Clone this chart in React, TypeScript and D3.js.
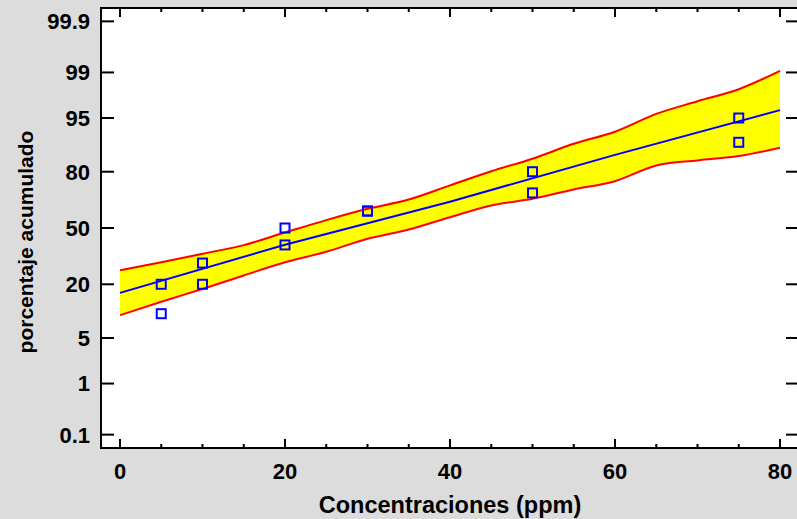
import React from 'react';
import * as d3 from 'd3';

const WIDTH = 797;
const HEIGHT = 519;
const FRAME = { left: 101, right: 799, top: 8, bottom: 448 };

// observed points (concentration, cumulative %)
const concentrations = [5, 5, 10, 10, 20, 20, 30, 30, 50, 50, 75, 75];
const observedPct = [10, 20, 20, 30, 40, 50, 60, 60, 70, 80, 90, 95];

// confidence band, read every 5 ppm
const bandX = [0, 5, 10, 15, 20, 25, 30, 35, 40, 45, 50, 55, 60, 65, 70, 75, 80];
const upperPct = [26.4, 30.4, 35, 39.9, 47.3, 54.7, 61.3, 66.5, 73.8, 80.2, 85, 89.6, 92.5, 95.6, 97.1, 98.1, 99.06];
const lowerPct = [9.6, 13.5, 18.1, 23.9, 30.4, 36.1, 43.6, 49.1, 56.4, 63.2, 66.9, 71.8, 75.8, 82.5, 84.4, 85.9, 88.5];

// fitted line
const fitX = [0, 20, 40, 60, 80];
const fitPct = [16.6, 40.1, 65.3, 86.3, 96.1];

const xMajor = [0, 20, 40, 60, 80];
const yTicks = [0.1, 1, 5, 20, 50, 80, 95, 99, 99.9];

// inverse normal cdf (Acklam)
function probit(p: number): number {
  const a = [-39.69683028665376, 220.9460984245205, -275.9285104469687, 138.357751867269, -30.66479806614716, 2.506628277459239];
  const b = [-54.47609879822406, 161.5858368580409, -155.6989798598866, 66.80131188771972, -13.28068155288572];
  const c = [-0.007784894002430293, -0.3223964580411365, -2.400758277161838, -2.549732539343734, 4.374664141464968, 2.938163982698783];
  const d = [0.007784695709041462, 0.3224671290700398, 2.445134137142996, 3.754408661907416];
  const pl = 0.02425;
  if (p < pl) {
    const q = Math.sqrt(-2 * Math.log(p));
    return (((((c[0] * q + c[1]) * q + c[2]) * q + c[3]) * q + c[4]) * q + c[5]) / ((((d[0] * q + d[1]) * q + d[2]) * q + d[3]) * q + 1);
  }
  if (p > 1 - pl) {
    const q = Math.sqrt(-2 * Math.log(1 - p));
    return -(((((c[0] * q + c[1]) * q + c[2]) * q + c[3]) * q + c[4]) * q + c[5]) / ((((d[0] * q + d[1]) * q + d[2]) * q + d[3]) * q + 1);
  }
  const q = p - 0.5;
  const r = q * q;
  return (((((a[0] * r + a[1]) * r + a[2]) * r + a[3]) * r + a[4]) * r + a[5]) * q / (((((b[0] * r + b[1]) * r + b[2]) * r + b[3]) * r + b[4]) * r + 1);
}

const App = () => {
  const x = d3.scaleLinear().domain([0, 80]).range([120, 780]);
  const z = d3.scaleLinear().domain([-3.29, 3.29]).range([FRAME.bottom, FRAME.top]);
  const y = (pct: number) => z(probit(pct / 100));

  const band = bandX.map((v, i) => ({ x: v, hi: upperPct[i], lo: lowerPct[i] }));
  const area = d3
    .area<any>()
    .curve(d3.curveMonotoneX)
    .x((d) => x(d.x))
    .y0((d) => y(d.lo))
    .y1((d) => y(d.hi));
  const upperLine = d3.line<any>().curve(d3.curveMonotoneX).x((d) => x(d.x)).y((d) => y(d.hi));
  const lowerLine = d3.line<any>().curve(d3.curveMonotoneX).x((d) => x(d.x)).y((d) => y(d.lo));
  const fitLine = d3
    .line<number>()
    .x((d) => x(d))
    .y((d, i) => y(fitPct[i]));

  const minor = x.ticks(16).filter((t) => !xMajor.includes(t));
  const font = 'Liberation Sans, Arial, sans-serif';

  return (
    <svg
      width={WIDTH}
      height={HEIGHT}
      style={{ position: 'absolute', left: 0, top: 0, background: '#dcdcdc' }}
    >
      <rect
        x={FRAME.left}
        y={FRAME.top}
        width={FRAME.right - FRAME.left}
        height={FRAME.bottom - FRAME.top}
        fill="#fff"
      />
      <path d={area(band) || ''} fill="#ffff00" />
      <path d={upperLine(band) || ''} fill="none" stroke="#ff0000" strokeWidth={2} />
      <path d={lowerLine(band) || ''} fill="none" stroke="#ff0000" strokeWidth={2} />
      <path d={fitLine(fitX) || ''} fill="none" stroke="#0000ff" strokeWidth={2} />
      {concentrations.map((c, i) => (
        <rect
          key={i}
          x={x(c) - 4.5}
          y={y(observedPct[i]) - 4.5}
          width={9}
          height={9}
          fill="none"
          stroke="#0000ff"
          strokeWidth={2}
        />
      ))}

      {/* ticks */}
      <g stroke="#000" strokeWidth={2}>
        {xMajor.map((t) => (
          <g key={'M' + t}>
            <line x1={x(t)} x2={x(t)} y1={FRAME.bottom} y2={FRAME.bottom - 9} />
            <line x1={x(t)} x2={x(t)} y1={FRAME.top} y2={FRAME.top + 9} />
          </g>
        ))}
        {minor.map((t) => (
          <g key={'m' + t}>
            <line x1={x(t)} x2={x(t)} y1={FRAME.bottom} y2={FRAME.bottom - 4} />
            <line x1={x(t)} x2={x(t)} y1={FRAME.top} y2={FRAME.top + 4} />
          </g>
        ))}
        {yTicks.map((t) => (
          <g key={'y' + t}>
            <line x1={FRAME.left} x2={FRAME.left + 13} y1={y(t)} y2={y(t)} />
            <line x1={FRAME.right} x2={FRAME.right - 13} y1={y(t)} y2={y(t)} />
          </g>
        ))}
      </g>
      <rect
        x={FRAME.left}
        y={FRAME.top}
        width={FRAME.right - FRAME.left}
        height={FRAME.bottom - FRAME.top}
        fill="none"
        stroke="#000"
        strokeWidth={2}
      />

      {/* labels */}
      <g fontFamily={font} fontWeight="bold" fontSize={22} fill="#000">
        {xMajor.map((t) => (
          <text key={'xl' + t} x={x(t)} y={479} textAnchor="middle">
            {t}
          </text>
        ))}
        {yTicks.map((t) => (
          <text key={'yl' + t} x={90} y={y(t)} dy="0.36em" textAnchor="end">
            {t}
          </text>
        ))}
        <text x={450} y={513} textAnchor="middle" fontSize={23.5}>
          Concentraciones (ppm)
        </text>
        <text
          transform={`translate(33, ${z(0) + 14}) rotate(-90)`}
          textAnchor="middle"
          fontSize={21}
        >
          porcentaje acumulado
        </text>
      </g>
    </svg>
  );
};

export default App;
